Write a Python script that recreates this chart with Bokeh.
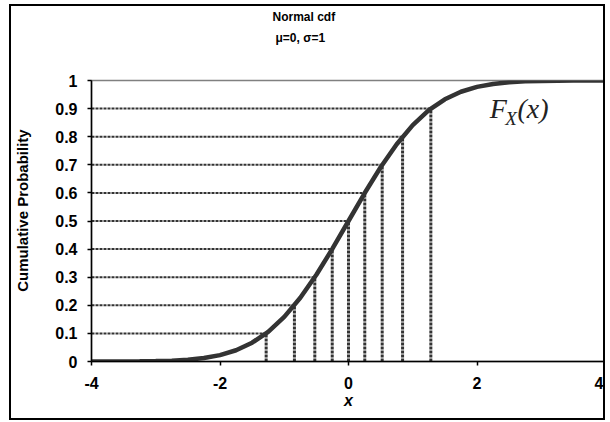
from bokeh.plotting import figure
from bokeh.models import Range1d, FixedTicker, Label, Title
from bokeh.embed import file_html
from bokeh.resources import INLINE

# CDF curve points
curve_x = [-4, -3.75, -3.5, -3.25, -3, -2.75, -2.5, -2.25, -2, -1.75, -1.5, -1.25,
           -1, -0.75, -0.5, -0.25, 0, 0.25, 0.5, 0.75, 1, 1.25, 1.5, 1.75,
           2, 2.25, 2.5, 2.75, 3, 3.25, 3.5, 3.75, 4]
curve_y = [0.00003, 0.00009, 0.00023, 0.00058, 0.00135, 0.00298, 0.00621, 0.01222,
           0.02275, 0.04006, 0.06681, 0.10565, 0.15866, 0.22663, 0.30854, 0.40129,
           0.5, 0.59871, 0.69146, 0.77337, 0.84134, 0.89435, 0.93319, 0.95994,
           0.97725, 0.98778, 0.99379, 0.99702, 0.99865, 0.99942, 0.99977, 0.99991, 0.99997]

# quantile guide lines
probs = [0.1, 0.2, 0.3, 0.4, 0.5, 0.6, 0.7, 0.8, 0.9]
quantiles = [-1.2816, -0.8416, -0.5244, -0.2533, 0.0, 0.2533, 0.5244, 0.8416, 1.2816]

x_ticks = [-4, -2, 0, 2, 4]
x_tick_labels = ["-4", "-2", "0", "2", "4"]
y_ticks = [0, 0.1, 0.2, 0.3, 0.4, 0.5, 0.6, 0.7, 0.8, 0.9, 1]
y_tick_labels = ["0", "0.1", "0.2", "0.3", "0.4", "0.5", "0.6", "0.7", "0.8", "0.9", "1"]

title_text = "Normal cdf"
subtitle_text = "μ=0, σ=1"
y_label = "Cumulative Probability"

FONT = "Liberation Sans"

p = figure(width=596, height=416, output_backend="svg", toolbar_location=None,
           x_range=Range1d(-4, 4), y_range=Range1d(0, 1),
           title=title_text,
           min_border_left=80, min_border_right=2, min_border_top=74, min_border_bottom=61)
p.styles = {"border": "2px solid black", "margin-left": "9px", "margin-top": "4px"}
p.background_fill_color = "white"
p.border_fill_color = "white"
p.outline_line_color = "#808080"
p.outline_line_width = 1.5
p.xgrid.visible = False
p.ygrid.visible = False

# titles: main title outermost; an empty spacer sits next to the frame, subtitle between
p.title.align = "left"
p.title.offset = 181
p.title.standoff = 3
p.title.text_font = FONT
p.title.text_font_style = "bold"
p.title.text_font_size = "12px"
p.title.text_color = "black"
p.add_layout(Title(text="\u00a0", align="left", standoff=17,
                   text_font=FONT, text_font_size="12px"), "above")
p.add_layout(Title(text=subtitle_text, align="left", offset=184, standoff=6,
                   text_font=FONT, text_font_style="bold", text_font_size="12px",
                   text_color="black"), "above")

# horizontal and vertical quantile lines
x_left = [-4] * len(probs)
y_zero = [0] * len(probs)
p.segment(x0=x_left, y0=probs, x1=quantiles, y1=probs,
          line_color="#333333", line_width=2, line_dash="3 1")
p.segment(x0=quantiles, y0=y_zero, x1=quantiles, y1=probs,
          line_color="#333333", line_width=3, line_dash="3 1")

# the CDF curve
p.line(curve_x, curve_y, line_color="#333333", line_width=4.5)

# axes
p.xaxis.ticker = FixedTicker(ticks=x_ticks)
p.yaxis.ticker = FixedTicker(ticks=y_ticks)
p.xaxis.major_label_overrides = {t: s for t, s in zip(x_ticks, x_tick_labels)}
p.yaxis.major_label_overrides = {t: s for t, s in zip(y_ticks, y_tick_labels)}
for ax in (p.xaxis[0], p.yaxis[0]):
    ax.axis_line_color = "black"
    ax.axis_line_width = 1.5
    ax.major_tick_line_color = "black"
    ax.major_tick_line_width = 1.5
    ax.major_tick_in = 0
    ax.major_tick_out = 4
    ax.minor_tick_line_color = None
    ax.major_label_text_font = FONT
    ax.major_label_text_font_style = "bold"
    ax.major_label_text_font_size = "16px"
    ax.major_label_text_color = "black"
    ax.axis_label_text_font = FONT
    ax.axis_label_text_color = "black"

p.xaxis.major_label_standoff = 11
p.yaxis.major_label_standoff = 10
p.xaxis.axis_label = "x"
p.xaxis.axis_label_text_font_style = "bold italic"
p.xaxis.axis_label_text_font_size = "16px"
p.xaxis.axis_label_standoff = 0
p.yaxis.axis_label = "\u00a0" * 5 + y_label
p.yaxis.axis_label_text_font_style = "bold"
p.yaxis.axis_label_text_font_size = "15px"
p.yaxis.axis_label_standoff = 21

# F_X(x) label
SERIF = "Liberation Serif"
p.add_layout(Label(x=2.2, y=0.9, text="F", text_align="left",
                   text_baseline="alphabetic", text_font=SERIF,
                   text_font_style="italic", text_font_size="28px", text_color="#222222"))
p.add_layout(Label(x=2.44, y=0.866, text="X", text_align="left",
                   text_baseline="alphabetic", text_font=SERIF,
                   text_font_style="italic", text_font_size="19px", text_color="#222222"))
p.add_layout(Label(x=2.63, y=0.9, text="(x)", text_align="left",
                   text_baseline="alphabetic", text_font=SERIF,
                   text_font_style="italic", text_font_size="28px", text_color="#222222"))

open("out.html", "w").write(file_html(p, INLINE))
